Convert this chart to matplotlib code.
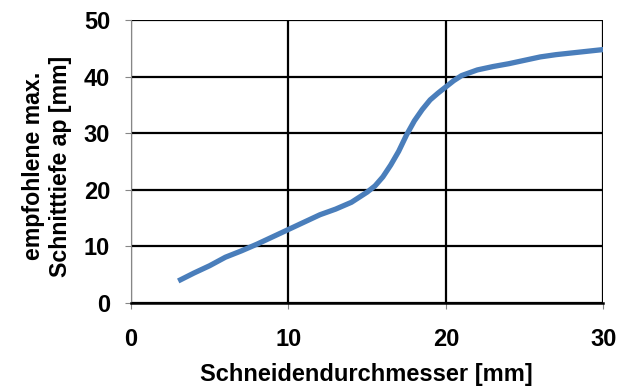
import matplotlib
matplotlib.use("Agg")
import matplotlib.pyplot as plt

# Schneidendurchmesser [mm] vs. empfohlene max. Schnitttiefe ap [mm]
durchmesser = [3, 4, 5, 6, 7, 8, 9, 10, 11, 12, 13, 13.5, 14, 15, 15.5, 16, 16.5,
               17, 17.5, 18, 18.5, 19, 19.5, 20, 20.5, 21, 22, 23, 24, 25, 26,
               27, 28, 29, 30]
schnitttiefe = [3.9, 5.3, 6.6, 8.1, 9.2, 10.4, 11.7, 13.0, 14.3, 15.6, 16.6, 17.2,
                17.8, 19.6, 20.7, 22.3, 24.4, 26.8, 29.7, 32.2, 34.2, 35.9, 37.1,
                38.2, 39.3, 40.2, 41.2, 41.8, 42.3, 42.9, 43.5, 43.9, 44.2, 44.5, 44.8]

x_ticks = [0, 10, 20, 30]
y_ticks = [0, 10, 20, 30, 40, 50]

plt.rcParams['font.family'] = ['Liberation Sans', 'DejaVu Sans']
plt.rcParams['font.weight'] = 'bold'

fig = plt.figure(figsize=(6.34, 3.87), dpi=100)
ax = fig.add_axes([0.2066, 0.217, 0.745, 0.731])

ax.plot(durchmesser, schnitttiefe, color='#4A7EBB', linewidth=3.8,
        solid_capstyle='butt', zorder=3)

ax.set_xlim(0, 30)
ax.set_ylim(0, 50)
ax.set_xticks(x_ticks)
ax.set_yticks(y_ticks)

# black grid lines
ax.grid(True, color='black', linewidth=1.6)
ax.set_axisbelow(True)

for side in ['top', 'right']:
    ax.spines[side].set_visible(False)
ax.spines['left'].set_color('#868686')
ax.spines['left'].set_linewidth(0.8)
ax.spines['bottom'].set_color('black')
ax.spines['bottom'].set_linewidth(1.8)

ax.tick_params(axis='both', direction='out', length=4, width=0.8,
               color='#868686', labelsize=17)
ax.tick_params(axis='y', pad=11)
ax.tick_params(axis='x', pad=14)

ax.set_xlabel('Schneidendurchmesser [mm]', fontsize=17, fontweight='bold')
ax.xaxis.set_label_coords(0.498, -0.212)
ax.set_ylabel('empfohlene max.\nSchnitttiefe ap [mm]', fontsize=16.7,
              fontweight='bold', linespacing=1.2)
ax.yaxis.set_label_coords(-0.125, 0.484)

fig.savefig('out.png', dpi=100)
